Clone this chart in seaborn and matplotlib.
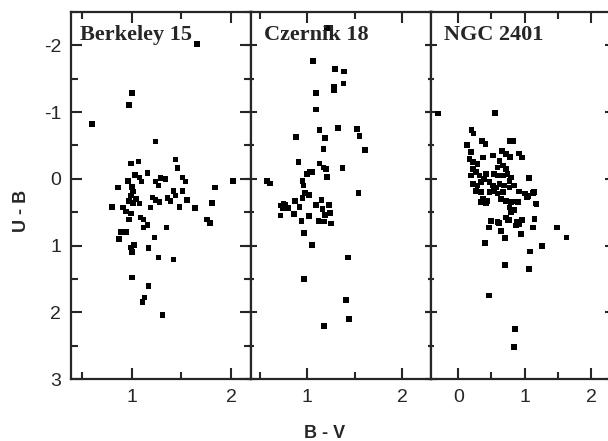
import numpy as np
import pandas as pd
import seaborn as sns
import matplotlib
matplotlib.use("Agg")
import matplotlib.pyplot as plt
from matplotlib.ticker import MultipleLocator

# cluster names
clusters = ["Berkeley 15", "Czernik 18", "NGC 2401"]

# Berkeley 15: B-V, U-B
bv_be15 = [1.66, 1.00, 0.97, 0.60, 1.24, 2.02, 0.99, 1.07, 1.44, 1.46, 1.16, 1.03,
           1.08, 1.10, 0.96, 1.24, 1.29, 1.34, 1.27, 1.51, 1.54, 0.86, 1.00, 1.01,
           0.99, 1.04, 0.97, 1.01, 1.08, 1.21, 1.24, 1.28, 1.42, 1.44, 1.51, 1.36,
           1.39, 1.56, 1.84, 1.81, 0.80, 0.91, 1.19, 1.48, 1.64, 0.94, 0.99, 0.97,
           1.09, 1.12, 1.16, 1.12, 1.35, 1.76, 1.79, 0.89, 0.94, 0.87, 1.23, 1.02,
           0.99, 1.00, 1.17, 1.27, 1.42, 1.00, 1.17, 1.13, 1.11, 1.31]
ub_be15 = [-2.02, -1.29, -1.11, -0.82, -0.56, 0.03, -0.23, -0.26, -0.29, -0.16, -0.09, -0.06,
           -0.02, 0.04, 0.03, 0.04, -0.01, 0.00, 0.10, -0.02, 0.04, 0.13, 0.12, 0.19,
           0.25, 0.30, 0.33, 0.36, 0.37, 0.28, 0.32, 0.35, 0.18, 0.25, 0.18, 0.29,
           0.33, 0.32, 0.13, 0.36, 0.42, 0.43, 0.43, 0.42, 0.44, 0.49, 0.52, 0.61,
           0.58, 0.61, 0.69, 0.73, 0.73, 0.61, 0.66, 0.80, 0.80, 0.90, 0.88, 0.99,
           1.03, 1.10, 1.04, 1.18, 1.21, 1.48, 1.61, 1.78, 1.85, 2.04]

# Czernik 18
bv_cz18 = [1.21, 1.06, 1.29, 1.39, 1.38, 1.28, 1.28, 1.09, 1.09, 1.13, 1.32, 1.52,
           1.55, 0.88, 1.19, 1.17, 1.61, 0.91, 1.13, 1.17, 1.20, 1.37, 1.03, 1.00,
           1.05, 1.21, 0.58, 0.61, 0.95, 0.96, 1.54, 0.98, 1.02, 0.95, 0.87, 1.15,
           0.75, 0.72, 0.77, 0.74, 0.80, 0.92, 1.09, 1.16, 1.23, 1.24, 1.19, 0.72,
           0.86, 1.02, 0.94, 1.12, 1.18, 1.25, 0.97, 1.05, 1.43, 0.97, 1.41, 1.44,
           1.18]
ub_cz18 = [-2.26, -1.77, -1.65, -1.61, -1.43, -1.38, -1.33, -1.29, -1.04, -0.73, -0.76, -0.75,
           -0.64, -0.63, -0.61, -0.45, -0.43, -0.25, -0.23, -0.17, -0.15, -0.16, -0.11, -0.07,
           -0.10, -0.03, 0.03, 0.07, 0.03, 0.10, 0.21, 0.21, 0.24, 0.29, 0.33, 0.32,
           0.37, 0.40, 0.39, 0.44, 0.44, 0.42, 0.39, 0.45, 0.39, 0.51, 0.54, 0.55,
           0.53, 0.56, 0.63, 0.63, 0.64, 0.67, 0.81, 0.99, 1.18, 1.50, 1.82, 2.10,
           2.21]

# NGC 2401
bv_n2401 = [-0.30, 0.55, 0.20, 0.23, 0.13, 0.36, 0.41, 0.78, 0.83, 0.92, 0.96, 0.19,
            0.37, 0.52, 0.66, 0.72, 0.78, 0.17, 0.22, 0.29, 0.62, 0.67, 0.59, 0.72,
            0.22, 0.27, 0.19, 0.32, 0.42, 0.39, 0.54, 0.59, 0.67, 0.74, 0.79, 0.77,
            1.07, 0.22, 0.29, 0.34, 0.47, 0.52, 0.57, 0.62, 0.69, 0.77, 0.84, 0.27,
            0.34, 0.47, 0.54, 0.59, 0.67, 0.92, 1.00, 1.05, 1.14, 0.37, 0.44, 0.34,
            0.42, 0.64, 0.72, 0.79, 0.87, 1.17, 0.77, 0.84, 0.79, 0.72, 0.77, 0.49,
            0.59, 0.89, 0.96, 1.15, 0.46, 0.50, 0.61, 0.74, 0.64, 0.70, 0.87, 0.92,
            0.95, 1.13, 1.49, 1.63, 1.26, 1.08, 0.40, 0.70, 1.06, 0.46, 0.86, 0.84,
            1.18, 1.03, 0.90, 1.13]
ub_n2401 = [-0.98, -0.99, -0.73, -0.68, -0.51, -0.57, -0.52, -0.57, -0.57, -0.38, -0.32, -0.40,
            -0.32, -0.35, -0.42, -0.37, -0.33, -0.30, -0.25, -0.22, -0.27, -0.20, -0.17, -0.15,
            -0.15, -0.10, -0.05, -0.05, -0.07, 0.00, -0.07, -0.05, -0.05, -0.07, -0.02, 0.03,
            -0.01, 0.08, 0.10, 0.05, 0.05, 0.10, 0.13, 0.08, 0.10, 0.13, 0.10, 0.18,
            0.20, 0.20, 0.18, 0.22, 0.20, 0.19, 0.22, 0.26, 0.20, 0.30, 0.33, 0.35,
            0.37, 0.30, 0.33, 0.35, 0.34, 0.37, 0.43, 0.47, 0.50, 0.58, 0.62, 0.63,
            0.65, 0.64, 0.62, 0.60, 0.73, 0.63, 0.66, 0.62, 0.78, 0.89, 0.70, 0.68,
            0.83, 0.73, 0.73, 0.88, 1.01, 1.09, 0.96, 1.29, 1.35, 1.75, 2.25, 2.52,
            0.38, 0.28, 0.35, 0.21]

xlims = [(0.39, 2.2), (0.41, 2.3), (-0.41, 2.3)]
xmajor = [[1, 2], [1, 2], [0, 1, 2]]
title_x = [0.05, 0.072, 0.072]

sns.set_style("ticks")
plt.rcParams["axes.unicode_minus"] = False
plt.rcParams["font.family"] = ["Liberation Sans", "DejaVu Sans"]

fig = plt.figure(figsize=(6.08, 4.41), dpi=100)
panel_w = 180 / 608
left0 = 71 / 608
bottom = 1 - 379 / 441
height = 367 / 441

data = [(bv_be15, ub_be15), (bv_cz18, ub_cz18), (bv_n2401, ub_n2401)]
for i, (name, (bv, ub)) in enumerate(zip(clusters, data)):
    ax = fig.add_axes([left0 + i * panel_w, bottom, panel_w, height])
    df = pd.DataFrame({"bv": bv, "ub": ub})
    sns.scatterplot(data=df, x="bv", y="ub", ax=ax, marker="s", s=17,
                    color="black", edgecolor="none", linewidth=0)
    ax.set_xlim(*xlims[i])
    ax.set_ylim(3, -2.5)
    ax.set_xticks(xmajor[i])
    ax.xaxis.set_minor_locator(MultipleLocator(0.5))
    ax.yaxis.set_major_locator(MultipleLocator(1))
    ax.yaxis.set_minor_locator(MultipleLocator(0.5))
    for sp in ax.spines.values():
        sp.set_linewidth(1.6)
        sp.set_visible(True)
    ax.tick_params(which="both", top=True, bottom=True, direction="in",
                   width=1.5, labelsize=14, pad=7)
    ax.tick_params(axis="y", which="both", left=True, right=True,
                   direction="inout" if i > 0 else "in")
    ax.tick_params(which="major", length=8)
    ax.tick_params(which="minor", length=5)
    ax.set_xlabel("")
    ax.set_ylabel("")
    if i > 0:
        ax.tick_params(axis="y", labelleft=False)
    # cluster name, serif bold like the original
    ax.text(title_x[i], 0.924, name, transform=ax.transAxes, ha="left", va="baseline",
            fontsize=16, fontweight="bold", family=["Liberation Serif", "DejaVu Serif"])

fig.text(22 / 608, 1 - 211 / 441, "U - B", rotation=90, ha="center", va="center",
         fontsize=13, fontweight="bold")
fig.text(325 / 608, 1 - 433 / 441, "B - V", ha="center", va="center",
         fontsize=13, fontweight="bold")

fig.savefig("out.png", dpi=100)
